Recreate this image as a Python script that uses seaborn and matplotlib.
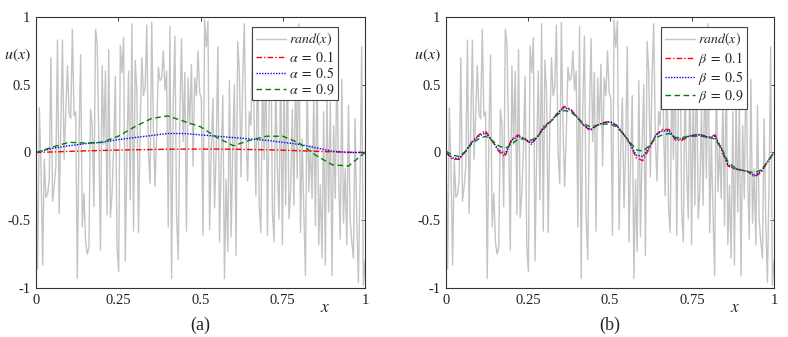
import numpy as np
import pandas as pd
import matplotlib
matplotlib.use("Agg")
import matplotlib.pyplot as plt
import seaborn as sns

# ruido de entrada (mesmo sinal nos dois paineis)
rand_vals = [
    0.0, -0.86, 0.33, -0.10, -0.83, -0.05, -0.33, -0.31, -0.20, 0.70, -0.36, -0.25, -0.10, 0.83, -0.45, 0.20,
    0.83, -0.05, 0.30, 0.64, 0.29, 0.25, 0.91, 0.27, 0.30, -0.93, 0.10, 0.72, -0.55, -0.30, -0.66, -0.75,
    -0.70, 0.32, 0.20, -0.40, 0.91, 0.80, 0.10, -0.72, 0.64, 0.06, 0.60, -0.46, 0.76, -0.48, -0.30, 0.05,
    0.56, -0.69, -0.88, 0.79, 0.59, 0.85, -0.80, 0.0, 0.60, -0.35, 0.95, -0.58, 0.68, 0.45, -0.59, 0.20,
    0.70, 0.42, 0.48, 0.94, 0.0, -0.23, 0.96, 0.17, -0.25, 0.15, 0.63, 0.53, 0.55, 0.75, 0.46, 0.60,
    -0.55, 0.93, -0.93, 0.35, 0.86, -0.45, -0.79, 0.28, 0.84, 0.08, 0.59, -0.58, 0.55, 0.20, 0.65, -0.10,
    0.55, 0.42, 0.75, 0.44, 0.40, -0.61, 0.98, 0.78, 0.97, -0.57, 0.02, 0.40, -0.41, 0.02, 0.78, -0.66,
    -0.05, 0.42, -0.93, -0.20, -0.73, 0.53, -0.62, 0.05, 0.50, -0.76, 0.82, 0.60, -0.18, 0.55, 0.95, 0.12,
    -0.21, 0.30, 0.20, 0.92,
    0.20, -0.32, 0.85, -0.39, -0.59, 0.60, -0.05, 0.75, -0.61, 0.35, 0.90, -0.44, -0.66, 0.55, -0.12, -0.49,
    0.70, -0.68, 0.50, -0.39, 0.80, -0.49, -0.29, 0.32, -0.39, 0.65, -0.19, 0.95, -0.59, 0.10, -0.44, -0.91,
    0.60, -0.29,
    0.05, -0.34, 0.40, -0.54, 0.70, -0.68, -0.24, -0.78, 0.30, -0.83, 0.42, -0.44, 0.37, -0.91, 0.20, -0.34,
    0.67, -0.15, -0.64, 0.54, -0.52, -0.12, -0.68, 0.35, -0.49, -0.66, -0.78, 0.25, -0.49, -0.96, -0.24, 0.78,
    -0.98, -0.80,
]

# painel (a): alpha
x_a = [0.0, 0.05, 0.10, 0.15, 0.20, 0.25, 0.30, 0.35, 0.40, 0.45, 0.50,
       0.55, 0.60, 0.65, 0.70, 0.75, 0.80, 0.85, 0.90, 0.95, 1.0]
alpha_01 = [0.0, 0.004, 0.008, 0.012, 0.015, 0.018, 0.020, 0.022, 0.024, 0.025, 0.025,
            0.025, 0.024, 0.022, 0.020, 0.017, 0.013, 0.009, 0.005, 0.002, 0.0]
alpha_05 = [0.0, 0.03, 0.05, 0.065, 0.075, 0.095, 0.11, 0.125, 0.14, 0.14, 0.13,
            0.12, 0.11, 0.10, 0.09, 0.075, 0.06, 0.035, 0.01, 0.0, 0.0]
alpha_09 = [0.0, 0.04, 0.075, 0.07, 0.075, 0.12, 0.19, 0.25, 0.27, 0.23, 0.19,
            0.11, 0.05, 0.09, 0.12, 0.12, 0.07, -0.02, -0.09, -0.10, 0.0]

# painel (b): beta
x_b = [0.0, 0.02, 0.04, 0.06, 0.08, 0.10, 0.12, 0.14, 0.16, 0.18, 0.20, 0.22, 0.24, 0.26, 0.28, 0.30, 0.32,
       0.34, 0.36, 0.38, 0.40, 0.42, 0.44, 0.46, 0.48, 0.50, 0.52, 0.54, 0.56, 0.58, 0.60, 0.62, 0.64,
       0.66, 0.68, 0.70, 0.72, 0.74, 0.76, 0.78, 0.80, 0.82, 0.84, 0.86, 0.88, 0.90, 0.92, 0.94, 0.96,
       0.98, 1.0]
beta_01 = [0.0, -0.05, -0.05, 0.01, 0.08, 0.13, 0.16, 0.09, 0.01, -0.03, 0.10, 0.13, 0.10, 0.06, 0.12, 0.20, 0.23,
           0.29, 0.34, 0.32, 0.26, 0.20, 0.16, 0.20, 0.22, 0.23, 0.20, 0.14, 0.07, -0.04, -0.06, 0.03, 0.13,
           0.17, 0.17, 0.09, 0.09, 0.12, 0.13, 0.13, 0.11, 0.13, 0.02, -0.10, -0.12, -0.13, -0.14, -0.18, -0.15,
           -0.07, 0.0]
beta_05 = [0.0, -0.04, -0.045, 0.01, 0.08, 0.12, 0.145, 0.09, 0.02, -0.01, 0.09, 0.12, 0.10, 0.07, 0.12, 0.19, 0.23,
           0.29, 0.33, 0.315, 0.26, 0.20, 0.17, 0.20, 0.22, 0.225, 0.20, 0.14, 0.07, -0.02, -0.03, 0.04, 0.13,
           0.16, 0.16, 0.10, 0.10, 0.12, 0.13, 0.13, 0.11, 0.12, 0.03, -0.09, -0.12, -0.13, -0.14, -0.17, -0.14,
           -0.07, 0.0]
beta_09 = [0.01, -0.02, -0.03, 0.01, 0.07, 0.10, 0.12, 0.09, 0.05, 0.03, 0.06, 0.10, 0.10, 0.09, 0.12, 0.18, 0.23,
           0.28, 0.31, 0.30, 0.26, 0.21, 0.19, 0.20, 0.21, 0.21, 0.19, 0.14, 0.08, 0.02, 0.01, 0.05, 0.11,
           0.13, 0.14, 0.11, 0.11, 0.12, 0.12, 0.12, 0.11, 0.10, 0.03, -0.07, -0.11, -0.13, -0.14, -0.15, -0.13,
           -0.07, 0.0]

xticks = [0, 0.25, 0.5, 0.75, 1]
xtick_labels = ["0", "0.25", "0.5", "0.75", "1"]
yticks = [-1, -0.5, 0, 0.5, 1]
ytick_labels = ["-1", "-0.5", "0", "0.5", "1"]

sns.set_style("white")
plt.rcParams["font.family"] = ["Liberation Serif", "DejaVu Serif"]
plt.rcParams["mathtext.fontset"] = "stix"

df_rand = pd.DataFrame({"x": np.linspace(0, 1, len(rand_vals)), "u": rand_vals})
df_a = pd.DataFrame({"x": x_a, "a1": alpha_01, "a5": alpha_05, "a9": alpha_09})
df_b = pd.DataFrame({"x": x_b, "b1": beta_01, "b5": beta_05, "b9": beta_09})

fig = plt.figure(figsize=(7.88, 3.37), dpi=100)
ax_a = fig.add_axes([0.0457, 0.1454, 0.4175, 0.8042])
ax_b = fig.add_axes([0.566, 0.1454, 0.4162, 0.8042])


def desenhar(ax, df, cols, simbolo, letra):
    sns.lineplot(data=df_rand, x="x", y="u", ax=ax, color="#c4c4c4", lw=1.0, label="$rand(x)$")
    sns.lineplot(data=df, x="x", y=cols[0], ax=ax, color="red", lw=1.0, label=rf"${simbolo}\;=\;0.1$")
    ax.lines[-1].set_linestyle((0, (4, 1.5, 1, 1.5)))
    sns.lineplot(data=df, x="x", y=cols[1], ax=ax, color="blue", lw=1.0, label=rf"${simbolo}\;=\;0.5$")
    ax.lines[-1].set_linestyle((0, (1, 1)))
    sns.lineplot(data=df, x="x", y=cols[2], ax=ax, color="green", lw=1.0, label=rf"${simbolo}\;=\;0.9$")
    ax.lines[-1].set_linestyle((0, (4, 2.5)))

    ax.set_xlim(0, 1)
    ax.set_ylim(-1, 1)
    ax.set_xticks(xticks)
    ax.set_xticklabels(xtick_labels)
    ax.set_yticks(yticks)
    ax.set_yticklabels(ytick_labels)
    ax.tick_params(direction="in", length=3, width=0.6, labelsize=10.5, top=True, right=True,
                   colors="#222222", pad=4)
    for s in ax.spines.values():
        s.set_color("#333333")
        s.set_linewidth(0.8)
    ax.set_xlabel("")
    ax.set_ylabel("")
    ax.text(-0.015, 0.86, "$u(x)$", transform=ax.transAxes, ha="right", va="center", fontsize=11.5)
    ax.text(0.88, -0.045, "$x$", transform=ax.transAxes, ha="center", va="top", fontsize=12.5)
    ax.text(0.5, -0.105, f"({letra})", transform=ax.transAxes, ha="center", va="top", fontsize=13)

    leg = ax.legend(loc="upper right", bbox_to_anchor=(0.918, 0.962), fontsize=10,
                    handlelength=2.2, handletextpad=0.2, borderpad=0.25, labelspacing=0.1,
                    borderaxespad=0, fancybox=False, framealpha=1)
    leg.get_frame().set_edgecolor("#444444")
    leg.get_frame().set_linewidth(0.8)


desenhar(ax_a, df_a, ["a1", "a5", "a9"], r"\alpha", "a")
desenhar(ax_b, df_b, ["b1", "b5", "b9"], r"\beta", "b")

fig.savefig("out.png", dpi=100)
